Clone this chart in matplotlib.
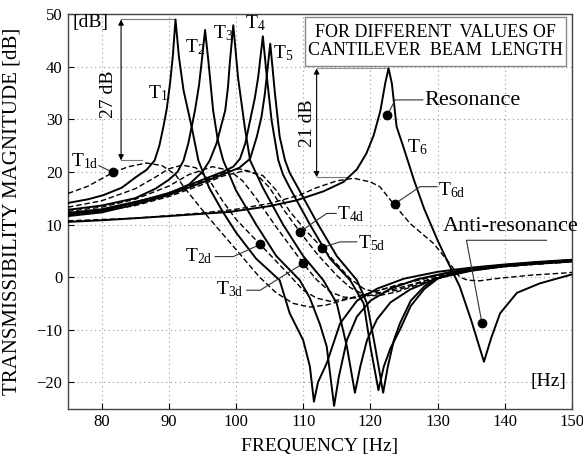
import matplotlib
matplotlib.use("Agg")
import matplotlib.pyplot as plt
from matplotlib.patches import Rectangle

plt.rcParams['font.family'] = ['Liberation Serif', 'DejaVu Serif']
plt.rcParams['mathtext.fontset'] = 'custom'
plt.rcParams['mathtext.rm'] = 'Liberation Serif'
plt.rcParams['mathtext.it'] = 'Liberation Serif:italic'

# --- data (frequency in Hz, magnitude in dB) ---
t1_f = [75, 78, 80.3, 83, 85.2, 86.7, 87.9, 88.6, 89.2, 89.7, 90.2, 90.6, 91, 91.5, 92.2, 93.4, 94.4,
        96, 98, 100, 103, 106.5, 108, 110, 111, 111.6, 112.2, 113.5, 115.5, 118, 121, 125, 130, 135,
        140, 145, 150]
t1_db = [14.1, 14.8, 15.6, 17, 19.1, 20.4, 22.2, 25, 28.6, 32, 37, 42, 49, 42, 35.5, 28.6, 22.2,
         17, 12.5, 8.5, 3.5, -0.6, -6.9, -12, -17, -23.7, -20, -16.4, -8.8, -4.5, -2.2, -0.3, 1, 1.8,
         2.4, 2.9, 3.3]

t2_f = [75, 80, 85, 88, 90, 91.3, 92.2, 92.9, 93.9, 94.5, 94.9, 95.4, 95.9, 96.6, 97.3, 98.1, 100,
        103, 106, 109.5, 111, 112.5, 113.5, 114.6, 115.3, 116.5, 118, 120, 123, 127, 132, 138, 144, 150]
t2_db = [12.8, 13.6, 15, 16.8, 18.5, 20, 22.2, 25.4, 31.7, 36.5, 41, 47, 41, 31.7, 26, 22.2, 16.5,
         10, 4, -0.6, -4, -9, -13.2, -24.5, -19, -12, -7.5, -4.5, -2.2, -0.4, 1, 2, 2.7, 3.2]

t3_f = [75, 80, 85, 90, 93, 95, 96.1, 97.1, 98.4, 98.8, 99.1, 99.6, 100.3, 101.3, 102.1, 104, 107,
        110, 113, 115, 116.5, 117.7, 118.5, 119.5, 121, 123, 126, 130, 135, 140, 145, 150]
t3_db = [12.2, 12.9, 14.3, 15.8, 17.6, 20, 22.2, 25.4, 31.7, 36, 41, 47.9, 38, 28.6, 22.2, 17, 10,
         4, -0.6, -5, -13.2, -22, -17, -12, -8, -4.8, -2.3, -0.2, 1.2, 2.1, 2.7, 3.1]

t4_f = [75, 80, 85, 90, 95, 98, 99.6, 100.6, 101.4, 102.1, 102.8, 103.3, 104, 104.6, 105.3, 106.3,
        107, 108, 111, 114, 117, 119, 120, 121.2, 122, 123, 124.4, 126, 128, 130, 133, 137, 140, 145, 150]
t4_db = [11.9, 12.6, 14.2, 16, 18.5, 20, 21, 22.5, 25.5, 29.8, 34, 38, 45.8, 38, 29.8, 22.2, 19.5, 17,
         10, 3.5, -0.6, -5, -13.2, -21.5, -17, -13.5, -10, -5.5, -2.3, -0.3, 1, 1.8, 2.2, 2.7, 3.1]

t5_f = [75, 80, 85, 90, 95, 98, 100.5, 102.1, 103.1, 103.8, 104.3, 105.1, 105.8, 106.5, 107.3, 108,
        109, 112, 115, 118, 119.5, 120.7, 121.9, 122.6, 123.5, 124.4, 126, 128, 130, 133, 137, 140, 145, 150]
t5_db = [11.6, 12.3, 13.8, 15.6, 18, 19.5, 20.8, 22.5, 26.7, 30.5, 34.9, 44.4, 34.9, 26.7, 22.2, 19.8,
         17.5, 10.5, 4, -0.6, -5, -13.2, -22, -17, -12, -8.8, -4.5, -1.8, -0.2, 1.1, 1.9, 2.3, 2.8, 3.2]

t6_f = [75, 80, 90, 99.1, 105, 109, 113, 116, 118, 119.4, 120.5, 121.5, 122.2, 122.7, 123.2, 123.9, 124.9,
        126.5, 128, 130, 131.4, 133.3, 135, 136.9, 138, 139.3, 141.8, 145.2, 149.7, 150]
t6_db = [10.5, 10.8, 11.6, 12.4, 13.5, 14.6, 16.3, 18.1, 20.5, 23.5, 27, 31.7, 36.8, 39.7, 36.8, 28.6, 24.8,
         18.4, 13, 7, 3.2, -1.8, -8.2, -16.1, -11.5, -6.9, -3, -1.2, 0.4, 0.5]

t1d_f = [75, 78, 81.7, 84, 86.7, 89, 91, 92.2, 95.6, 100.1, 103.5, 106, 108.5, 111, 113.5, 116, 120,
         125, 130, 135, 140, 145, 150]
t1d_db = [15.9, 17.3, 19.9, 21.0, 21.7, 21.2, 19.5, 17.2, 11.8, 5.1, 0, -3, -5, -5.7, -5.3, -4.4, -3,
          -1.2, 0.3, 1.3, 2, 2.5, 3]

t2d_f = [75, 80, 85, 88, 90, 92, 94, 96, 98, 100, 103.6, 106, 108, 110, 112, 114, 117, 120, 124, 130,
         135, 140, 145, 150]
t2d_db = [13.3, 14.5, 16.8, 19, 20.6, 21.3, 20.8, 18.5, 14.5, 11, 6.2, 3, 0.3, -2.5, -4, -4.6, -4, -3,
          -1.5, 0.3, 1.3, 2, 2.5, 2.9]

t3d_f = [75, 80, 85, 90, 93, 96.5, 99, 101, 103, 106, 110, 112, 114, 116, 118, 121, 125, 130, 135, 140,
         145, 150]
t3d_db = [12.5, 13.3, 14.8, 17.3, 19.5, 21, 20.3, 18.3, 15, 9.5, 2.6, -0.5, -2.8, -3.8, -4, -3.2, -1.8,
          0, 1.2, 2, 2.5, 2.9]

t4d_f = [75, 80, 85, 90, 95, 98, 100.5, 103, 105, 107, 109.5, 112, 115, 117, 119, 121, 124, 128, 132,
         136, 140, 145, 150]
t4d_db = [12.1, 12.8, 14, 15.8, 18.3, 19.8, 20.6, 19.6, 17, 13, 8.6, 4.5, 0.3, -2, -3.3, -3.6, -2.8, -1,
          0.5, 1.4, 2, 2.5, 2.9]

t5d_f = [75, 80, 85, 90, 95, 98, 101.5, 104, 106, 108, 110.5, 112.8, 115, 117, 119, 121, 124, 128, 132,
         136, 140, 145, 150]
t5d_db = [11.8, 12.5, 13.6, 15.3, 17.6, 19.2, 20.3, 19.3, 16.5, 12.5, 8.7, 5.6, 2.5, -0.3, -2.2, -3,
          -2.5, -0.8, 0.6, 1.5, 2.1, 2.6, 3]

t6d_f = [75, 85, 95, 100, 105, 109.5, 112, 115, 117.5, 120, 121.4, 123.4, 125.9, 129.4, 131.8, 133.3,
         134.5, 136.3, 139.3, 144.2, 149.2, 150]
t6d_db = [10.7, 11.2, 12.2, 12.9, 14, 15.6, 17, 18.3, 18.8, 18.1, 17.2, 14, 10.2, 6.4, 2.6, 0, -0.6,
          -0.7, -0.2, 0.4, 0.8, 0.9]

solid = [(t1_f, t1_db), (t2_f, t2_db), (t3_f, t3_db), (t4_f, t4_db), (t5_f, t5_db), (t6_f, t6_db)]
dashed = [(t1d_f, t1d_db), (t2d_f, t2d_db), (t3d_f, t3d_db), (t4d_f, t4d_db), (t5d_f, t5d_db),
          (t6d_f, t6d_db)]

x_ticks = [80, 90, 100, 110, 120, 130, 140, 150]
y_ticks = [-20, -10, 0, 10, 20, 30, 40, 50]

fig = plt.figure(figsize=(5.83, 4.58), dpi=100)
ax = fig.add_axes([0.1166, 0.108, 0.8645, 0.861])

for f, db in dashed:
    ax.plot(f, db, color='black', lw=1.0, dashes=(4, 2), zorder=3)
for f, db in solid:
    ax.plot(f, db, color='black', lw=1.4, zorder=4)

ax.set_xlim(75, 150)
ax.set_ylim(-25, 50)
ax.set_xticks(x_ticks)
ax.set_yticks(y_ticks)
ax.tick_params(direction='in', length=4, labelsize=12, pad=4)
ax.grid(True, color='#999999', linestyle=(0, (1, 3)), lw=0.8)
for s in ax.spines.values():
    s.set_color('#444444')
    s.set_linewidth(1.0)

ax.set_xlabel('FREQUENCY [Hz]', fontsize=14)
ax.set_ylabel('TRANSMISSIBILITY MAGNITUDE [dB]', fontsize=15)
ax.xaxis.set_label_coords(0.5, -0.075)
ax.yaxis.set_label_coords(-0.092, 0.5)

ax.text(75.6, 48.4, '[dB]', fontsize=14, ha='left', va='center')
ax.text(149.1, -19.8, '[Hz]', fontsize=14, ha='right', va='center')

# title box
ax.add_patch(Rectangle((110.3, 40.1), 38.8, 9.3, fc='white', ec='#888888', lw=1.0, zorder=5))
ax.text(129.7, 44.8, 'FOR DIFFERENT  VALUES OF\nCANTILEVER  BEAM  LENGTH', fontsize=13,
        ha='center', va='center', linespacing=1.05, zorder=6)

# 27 dB / 21 dB dimension arrows
ax.plot([82.9, 91.0], [49, 49], color='#777777', lw=0.8)
ax.plot([82.9, 86.0], [22.2, 22.2], color='#777777', lw=0.8)
ax.annotate('', xy=(82.9, 22.2), xytext=(82.9, 49),
            arrowprops=dict(arrowstyle='<|-|>', color='black', lw=0.8, mutation_scale=8,
                            shrinkA=0, shrinkB=0))
ax.text(81.1, 34.8, '27 dB', fontsize=14, rotation=90, ha='center', va='center')

ax.plot([112, 122.6], [39.7, 39.7], color='#999999', lw=0.8)
ax.plot([112, 116.5], [19, 19], color='#777777', lw=0.8)
ax.annotate('', xy=(112, 19), xytext=(112, 39.7),
            arrowprops=dict(arrowstyle='<|-|>', color='black', lw=0.8, mutation_scale=8,
                            shrinkA=0, shrinkB=0))
ax.text(110.6, 29.3, '21 dB', fontsize=14, rotation=90, ha='center', va='center')

# curve labels
labels = [('T$_\\mathregular{1}$', 86.9, 35.0), ('T$_\\mathregular{2}$', 92.4, 43.7),
          ('T$_\\mathregular{3}$', 96.6, 46.4), ('T$_\\mathregular{4}$', 101.3, 48.3),
          ('T$_\\mathregular{5}$', 105.5, 42.6), ('T$_\\mathregular{6}$', 125.5, 24.8),
          ('T$_\\mathregular{1d}$', 75.5, 22.0), ('T$_\\mathregular{2d}$', 92.4, 4.0),
          ('T$_\\mathregular{3d}$', 97.1, -2.3), ('T$_\\mathregular{4d}$', 115.0, 11.9),
          ('T$_\\mathregular{5d}$', 118.2, 6.5), ('T$_\\mathregular{6d}$', 130.1, 16.6)]
for txt, x, y in labels:
    ax.text(x, y, txt, fontsize=14, ha='left', va='center', zorder=6)

# leader lines with markers
leaders = [([79.6, 81.7], [21.2, 19.9]),
           ([96.9, 99.6, 103.6], [3.9, 3.9, 6.2]),
           ([101.6, 103.6, 110.0], [-2.5, -2.5, 2.6]),
           ([109.5, 113.5, 114.9], [8.6, 12.1, 12.1]),
           ([112.8, 115.5, 118.0], [5.6, 6.7, 6.7]),
           ([123.6, 127.4, 129.9], [13.9, 17.2, 17.2]),
           ([122.5, 123.7, 127.8], [30.8, 33.7, 33.7]),
           ([136.6, 134.3, 146.2], [-8.7, 7.0, 7.0])]
for lx, ly in leaders:
    ax.plot(lx, ly, color='#333333', lw=0.8, zorder=5)

marks_f = [81.7, 103.6, 110.0, 109.5, 112.8, 123.6, 122.5, 136.6]
marks_db = [19.9, 6.2, 2.6, 8.6, 5.6, 13.9, 30.8, -8.7]
ax.plot(marks_f, marks_db, 'o', color='black', ms=6, zorder=7)

ax.text(128.0, 33.6, 'Resonance', fontsize=16, ha='left', va='center')
ax.text(130.8, 9.6, 'Anti-resonance', fontsize=16, ha='left', va='center', clip_on=False)

fig.savefig('out.png', dpi=100)
